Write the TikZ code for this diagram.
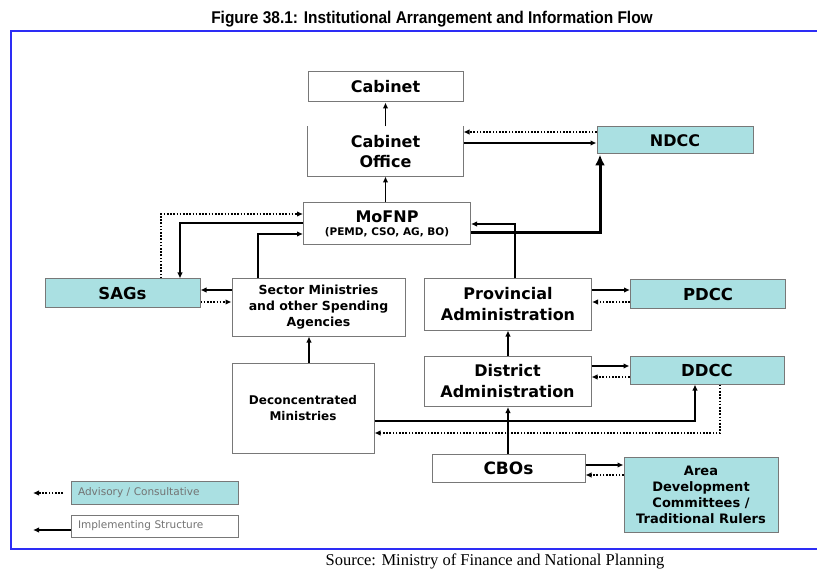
\documentclass[tikz,border=0pt]{standalone}
\usepackage{fontspec}
\setmainfont{DejaVu Sans}
\newfontfamily\arialf{Liberation Sans}
\newfontfamily\timesf{Liberation Serif}
\usetikzlibrary{arrows.meta}
\definecolor{cyanbox}{RGB}{170,224,226}
\definecolor{boxline}{RGB}{120,120,120}
\definecolor{frameblue}{RGB}{45,45,245}
\begin{document}
\begin{tikzpicture}[x=1pt,y=-1pt,
  box/.style={draw=boxline, line width=1pt, fill=white, inner sep=0pt, align=center},
  cbox/.style={box, fill=cyanbox},
  fs/.style 2 args={font=\bfseries\fontsize{#1}{#2}\selectfont},
  imp/.style={line width=1.8pt, -{Latex[length=6pt,width=5.5pt]}},
  adv/.style={line width=1.8pt, dash pattern=on 1.6pt off 1.6pt, -{Latex[length=6pt,width=5.5pt]}},
  thickarr/.style={line width=3pt, -{Latex[length=11pt,width=10pt]}},
  legtext/.style={font=\fontsize{10.5}{12}\selectfont, text=black!55},
]
\useasboundingbox (0,0) rectangle (817,572);
\fill[white] (0,0) rectangle (817,572);

% frame and captions
\draw[frameblue, line width=1.6pt] (817,31) -- (11,31) -- (11,549) -- (817,549);
\node (title) at (432,19) {\arialf\bfseries\fontsize{17}{19}\selectfont\scalebox{0.91}[1]{Figure 38.1: Institutional Arrangement and Information Flow}};
\node (source) at (495,561) {\timesf\fontsize{16.5}{18}\selectfont Source: Ministry of Finance and National Planning};

% boxes
\node[box, fs={16}{20}, minimum width=155pt, minimum height=30pt] (cab) at (385.5,87) {Cabinet};
\node[box, draw=none, fs={16}{20}, minimum width=155pt, minimum height=49pt] (cabo) at (385.5,151.5) {Cabinet\\Office};
\draw[boxline, line width=1pt] (cabo.north west) -- (cabo.south west) -- (cabo.south east) -- (cabo.north east);
\node[cbox, fs={16}{20}, minimum width=156pt, minimum height=27pt] (ndcc) at (675,140.5) {NDCC};
\node[box, minimum width=167pt, minimum height=42pt] (mof) at (387,224) {{\bfseries\fontsize{16}{18}\selectfont MoFNP}\\[1pt]{\bfseries\fontsize{10.5}{12}\selectfont (PEMD, CSO, AG, BO)}};
\node[cbox, fs={16.5}{20}, minimum width=155pt, minimum height=28pt] (sags) at (122.5,293) {SAGs};
\node[box, fs={12.5}{16}, minimum width=173pt, minimum height=57pt] (sect) at (318.5,307.5) {Sector Ministries\\and other Spending\\Agencies};
\node[box, fs={16}{21}, minimum width=167pt, minimum height=51pt] (prov) at (508,304.5) {Provincial\\Administration};
\node[cbox, fs={16.5}{20}, minimum width=155pt, minimum height=28pt] (pdcc) at (708,294) {PDCC};
\node[box, fs={16}{21}, minimum width=167pt, minimum height=50pt] (dist) at (507.5,381.5) {District\\Administration};
\node[cbox, fs={16.5}{20}, minimum width=154pt, minimum height=28pt] (ddcc) at (707,370) {DDCC};
\node[box, fs={12}{16}, minimum width=142pt, minimum height=90pt] (dec) at (303,408) {Deconcentrated\\Ministries};
\node[box, fs={17}{20}, minimum width=153pt, minimum height=28pt] (cbo) at (508.5,468) {CBOs};
\node[cbox, fs={13}{16}, minimum width=154pt, minimum height=75pt] (adc) at (701,495) {Area\\Development\\Committees /\\Traditional Rulers};

% legend
\node[cbox, legtext, minimum width=167pt, minimum height=23pt, text width=153pt, align=left] (leg1) at (154.5,492.5) {Advisory / Consultative};
\node[box, legtext, minimum width=167pt, minimum height=22pt, text width=153pt, align=left] (leg2) at (154.5,526) {Implementing Structure};
\coordinate (l1a) at (33,493);
\coordinate (l1b) at (63,493);
\coordinate (l2a) at (33,530);
\draw[adv] (l1b) -- (l1a);
\draw[imp] (leg2.west |- l2a) -- (l2a);

% connectors
\draw[imp] (cabo.north) -- (cab.south);
\draw[imp] (cabo.south |- mof.north) -- (cabo.south);
\draw[adv] (ndcc.west |- 0,132) -- (cabo.east |- 0,132);
\draw[imp] (cabo.east |- 0,143) -- (ndcc.west |- 0,143);
\draw[thickarr] (mof.east |- 0,233) -| (ndcc.south -| 600,0);
\draw[imp] (prov.north -| 515,0) |- (mof.east |- 0,224);
\draw[adv] (sags.north -| 161,0) |- (mof.west |- 0,214);
\draw[imp] (mof.west |- 0,223) -| (sags.north -| 180,0);
\draw[imp] (sect.north -| 258,0) |- (mof.west |- 0,234);
\draw[imp] (sect.west |- 0,290) -- (sags.east |- 0,290);
\draw[adv] (sags.east |- 0,302) -- (sect.west |- 0,302);
\draw[imp] (dec.north -| 309,0) -- (sect.south -| 309,0);
\draw[imp] (dist.north -| 508,0) -- (prov.south -| 508,0);
\draw[imp] (prov.east |- 0,290) -- (pdcc.west |- 0,290);
\draw[adv] (pdcc.west |- 0,302) -- (prov.east |- 0,302);
\draw[imp] (dist.east |- 0,366) -- (ddcc.west |- 0,366);
\draw[adv] (ddcc.west |- 0,377) -- (dist.east |- 0,377);
\draw[imp] (dec.east |- 0,421) -| (ddcc.south -| 695,0);
\draw[adv] (ddcc.south -| 720,0) |- (dec.east |- 0,433);
\draw[imp] (cbo.north -| 508,0) -- (dist.south -| 508,0);
\draw[imp] (cbo.east |- 0,465) -- (adc.west |- 0,465);
\draw[adv] (adc.west |- 0,475) -- (cbo.east |- 0,475);
\end{tikzpicture}
\end{document}
